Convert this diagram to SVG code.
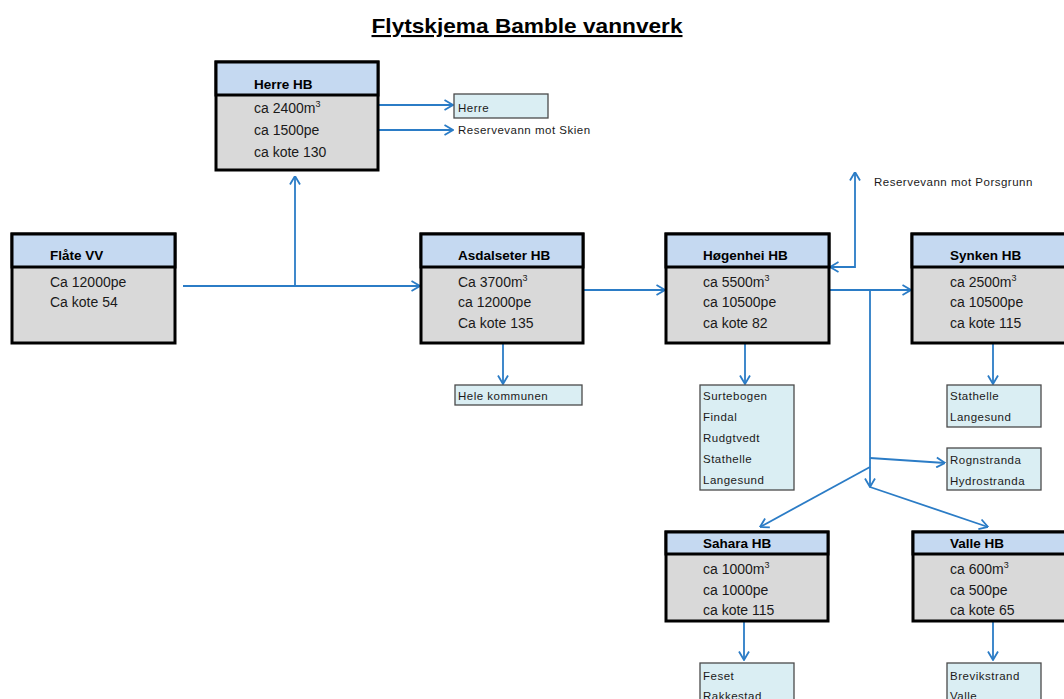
<svg xmlns="http://www.w3.org/2000/svg" width="1064" height="699" viewBox="0 0 1064 699">
<defs>
<marker id="arr" viewBox="0 0 10 12" refX="9.5" refY="6" markerWidth="10" markerHeight="12" markerUnits="userSpaceOnUse" orient="auto-start-reverse">
<path d="M1,1 L9.5,6 L1,11" fill="none" stroke="#2B7CC6" stroke-width="1.8"/>
</marker>
<style>
.hd{fill:#C5D9F1;stroke:#000;stroke-width:3}
.bd{fill:#D9D9D9;stroke:#000;stroke-width:3}
.sb{fill:#DAEEF3;stroke:#4a4a4a;stroke-width:1.3}
.ht{font-family:"Liberation Sans",Arial,sans-serif;font-weight:bold;font-size:13.5px;fill:#000}
.bt{font-family:"Liberation Sans",Arial,sans-serif;font-size:14px;fill:#1a1a1a}
.st{font-family:"Liberation Sans",Arial,sans-serif;font-size:11.5px;letter-spacing:0.5px;fill:#1a1a1a}
.sup{font-size:9px}
.cn{fill:none;stroke:#2B7CC6;stroke-width:1.8;marker-end:url(#arr)}
</style>
</defs>
<rect width="1064" height="699" fill="#fff"/>
<text x="527" y="33" text-anchor="middle" font-family="Liberation Sans, Arial, sans-serif" font-weight="bold" font-size="21" text-decoration="underline" textLength="311" lengthAdjust="spacingAndGlyphs">Flytskjema Bamble vannverk</text>

<g id="connectors">
<path class="cn" d="M183,286 H420"/>
<path class="cn" d="M295,286 V176"/>
<path class="cn" d="M378,105 H453"/>
<path class="cn" d="M378,130 H453"/>
<path class="cn" d="M583,290 H665"/>
<path class="cn" d="M503,343 V384"/>
<path class="cn" d="M745,343 V384"/>
<path class="cn" d="M830,267 H855 V172" style="marker-start:url(#arr)"/>
<path class="cn" d="M829,290 H911"/>
<path class="cn" d="M870,290 V487"/>
<path class="cn" d="M870,458 L945,463"/>
<path class="cn" d="M870,467 L760,527"/>
<path class="cn" d="M870,487 L988,527"/>
<path class="cn" d="M993,343 V384"/>
<path class="cn" d="M744,621 V660"/>
<path class="cn" d="M993,621 V660"/>
</g>

<g id="herre-hb">
<rect class="bd" x="216" y="62" width="162" height="108"/>
<rect class="hd" x="216" y="62" width="162" height="33"/>
<text class="ht" x="254" y="89">Herre HB</text>
<text class="bt" x="254" y="113">ca 2400m<tspan class="sup" dy="-6">3</tspan></text>
<text class="bt" x="254" y="135">ca 1500pe</text>
<text class="bt" x="254" y="157">ca kote 130</text>
</g>

<g id="herre">
<rect class="sb" x="454" y="94" width="94" height="24"/>
<text class="st" x="458" y="112">Herre</text>
</g>
<g id="reserve-skien">
<text class="st" x="458" y="134">Reservevann mot Skien</text>
</g>

<g id="flate-vv">
<rect class="bd" x="12" y="234" width="163" height="109"/>
<rect class="hd" x="12" y="234" width="163" height="33"/>
<text class="ht" x="50" y="260">Flåte VV</text>
<text class="bt" x="50" y="287">Ca 12000pe</text>
<text class="bt" x="50" y="307">Ca kote 54</text>
</g>

<g id="asdalseter-hb">
<rect class="bd" x="421" y="234" width="162" height="109"/>
<rect class="hd" x="421" y="234" width="162" height="33"/>
<text class="ht" x="458" y="260">Asdalseter HB</text>
<text class="bt" x="458" y="287">Ca 3700m<tspan class="sup" dy="-6">3</tspan></text>
<text class="bt" x="458" y="307">ca 12000pe</text>
<text class="bt" x="458" y="328">Ca kote 135</text>
</g>

<g id="hele-kommunen">
<rect class="sb" x="455" y="385" width="127" height="20"/>
<text class="st" x="458" y="400">Hele kommunen</text>
</g>

<g id="hogenhei-hb">
<rect class="bd" x="666" y="234" width="163" height="109"/>
<rect class="hd" x="666" y="234" width="163" height="33"/>
<text class="ht" x="703" y="260">Høgenhei HB</text>
<text class="bt" x="703" y="287">ca 5500m<tspan class="sup" dy="-6">3</tspan></text>
<text class="bt" x="703" y="307">ca 10500pe</text>
<text class="bt" x="703" y="328">ca kote 82</text>
</g>

<g id="hogenhei-omrader">
<rect class="sb" x="700" y="385" width="94" height="105"/>
<text class="st" x="703" y="400">Surtebogen</text>
<text class="st" x="703" y="421">Findal</text>
<text class="st" x="703" y="442">Rudgtvedt</text>
<text class="st" x="703" y="463">Stathelle</text>
<text class="st" x="703" y="484">Langesund</text>
</g>

<g id="reserve-porsgrunn">
<text class="st" x="874" y="186">Reservevann mot Porsgrunn</text>
</g>

<g id="synken-hb">
<rect class="bd" x="912" y="234" width="160" height="109"/>
<rect class="hd" x="912" y="234" width="160" height="33"/>
<text class="ht" x="950" y="260">Synken HB</text>
<text class="bt" x="950" y="287">ca 2500m<tspan class="sup" dy="-6">3</tspan></text>
<text class="bt" x="950" y="307">ca 10500pe</text>
<text class="bt" x="950" y="328">ca kote 115</text>
</g>

<g id="synken-omrader">
<rect class="sb" x="947" y="385" width="94" height="42"/>
<text class="st" x="950" y="400">Stathelle</text>
<text class="st" x="950" y="421">Langesund</text>
</g>

<g id="rognstranda">
<rect class="sb" x="947" y="448" width="94" height="42"/>
<text class="st" x="950" y="464">Rognstranda</text>
<text class="st" x="950" y="485">Hydrostranda</text>
</g>

<g id="sahara-hb">
<rect class="bd" x="666" y="532" width="162" height="89"/>
<rect class="hd" x="666" y="532" width="162" height="22"/>
<text class="ht" x="703" y="548">Sahara HB</text>
<text class="bt" x="703" y="574">ca 1000m<tspan class="sup" dy="-6">3</tspan></text>
<text class="bt" x="703" y="595">ca 1000pe</text>
<text class="bt" x="703" y="615">ca kote 115</text>
</g>

<g id="sahara-omrader">
<rect class="sb" x="700" y="663" width="94" height="50"/>
<text class="st" x="703" y="680">Feset</text>
<text class="st" x="703" y="700">Rakkestad</text>
</g>

<g id="valle-hb">
<rect class="bd" x="913" y="532" width="160" height="89"/>
<rect class="hd" x="913" y="532" width="160" height="22"/>
<text class="ht" x="950" y="548">Valle HB</text>
<text class="bt" x="950" y="574">ca 600m<tspan class="sup" dy="-6">3</tspan></text>
<text class="bt" x="950" y="595">ca 500pe</text>
<text class="bt" x="950" y="615">ca kote 65</text>
</g>

<g id="valle-omrader">
<rect class="sb" x="947" y="663" width="94" height="50"/>
<text class="st" x="950" y="680">Brevikstrand</text>
<text class="st" x="950" y="700">Valle</text>
</g>
</svg>
